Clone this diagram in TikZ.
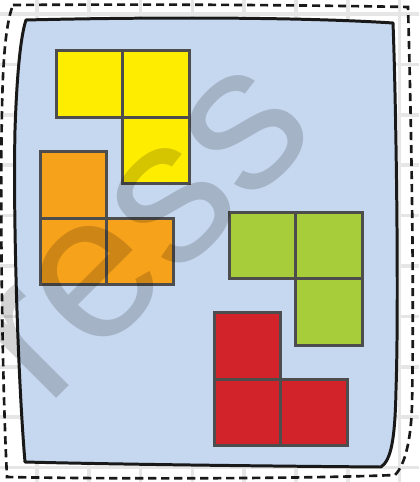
\documentclass[tikz,border=0pt]{standalone}
\usepackage{fontspec}
\usepackage{xcolor}
\usepackage{tikz}
\usetikzlibrary{positioning}

\newfontfamily\markfont{Liberation Sans}

\definecolor{gridgray}{HTML}{E6E6E6}
\definecolor{panelblue}{HTML}{C6D8EF}
\definecolor{celledge}{HTML}{4D4D4D}
\definecolor{tileyellow}{HTML}{FFED00}
\definecolor{tileorange}{HTML}{F7A21B}
\definecolor{tilegreen}{HTML}{A7CE3A}
\definecolor{tilered}{HTML}{D2232A}

\begin{document}
\begin{tikzpicture}[
        x=0.02cm, y=-0.02cm,
        cell/.style={
            rectangle,
            draw=celledge,
            line width=1.7pt,
            minimum size=1.33cm,
            inner sep=0pt,
            outer sep=0pt
        },
        gridline/.style={
            gridgray,
            line width=2pt
        },
        cutline/.style={
            black!90,
            line width=1.5pt,
            dash pattern=on 4.6pt off 2.8pt
        },
        board/.style={
            fill=panelblue,
            draw=black!90,
            line width=1.7pt,
            line join=round
        }
    ]

    \useasboundingbox (0,0) rectangle (419,482);
    \fill[white] (0,0) rectangle (419,482);

    % squared paper
    \foreach \gx in {0,...,7}
        \draw[gridline] ({37+51.8*\gx},0) -- ({37+51.8*\gx},482);
    \foreach \gy in {0,...,9}
        \draw[gridline] (0,{14+50.4*\gy}) -- (419,{14+50.4*\gy});

    % dashed cut line
    \draw[cutline]
        (13,5) .. controls (150,4) and (300,5) .. (408,7)
        .. controls (412,150) and (414,300) .. (412,405)
        .. controls (411,440) and (405,465) .. (395,475)
        .. controls (300,479) and (100,479) .. (7,477)
        .. controls (2,380) and (0,200) .. (2,110)
        .. controls (3,50) and (7,20) .. (13,5) -- cycle;

    % board
    \draw[board]
        (26,20) .. controls (150,17) and (300,17) .. (393,23)
        .. controls (396,100) and (399,300) .. (396,390)
        .. controls (395,440) and (391,460) .. (381,467)
        .. controls (250,466) and (100,464) .. (25,462)
        .. controls (18,380) and (13,220) .. (15,130)
        .. controls (17,70) and (21,35) .. (26,20) -- cycle;

    \node[cell, fill=tileyellow] (yellowA) at (89.5,84) {};
    \node[cell, fill=tileyellow, right=0pt of yellowA] (yellowB) {};
    \node[cell, fill=tileyellow, below=0pt of yellowB] (yellowC) {};

    \node[cell, fill=tileorange] (orangeA) at (73.5,185) {};
    \node[cell, fill=tileorange, below=0pt of orangeA] (orangeB) {};
    \node[cell, fill=tileorange, right=0pt of orangeB] (orangeC) {};

    \node[cell, fill=tilegreen] (greenA) at (262.5,245.5) {};
    \node[cell, fill=tilegreen, right=0pt of greenA] (greenB) {};
    \node[cell, fill=tilegreen, below=0pt of greenB] (greenC) {};

    \node[cell, fill=tilered] (redA) at (247.5,346) {};
    \node[cell, fill=tilered, below=0pt of redA] (redB) {};
    \node[cell, fill=tilered, right=0pt of redB] (redC) {};

    % watermark
    \node[rotate=45, anchor=base, inner sep=0pt, text=black, text opacity=0.17,
        font=\markfont\fontsize{117}{117}\selectfont] (stamp) at (183.5,271.5) {ress};

\end{tikzpicture}
\end{document}
